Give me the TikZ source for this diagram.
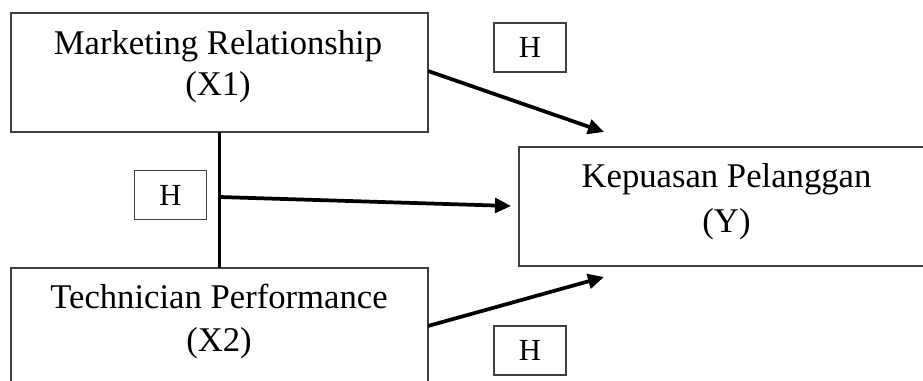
\documentclass[tikz,border=0pt]{standalone}
\usepackage{fontspec}
\setmainfont{Liberation Serif}
\usetikzlibrary{arrows.meta}
\begin{document}
\begin{tikzpicture}[x=0.75pt,y=-0.75pt,
  box/.style={draw=black!75,line width=0.8pt,inner sep=0pt,outer sep=0pt,fill=none},
  hbox/.style={box,minimum width=54pt,minimum height=36.75pt,font=\fontsize{23}{26}\selectfont},
  txt/.style={anchor=base,inner sep=0pt,font=\fontsize{26}{30}\selectfont},
  conn/.style={line width=2.8pt,black},
  arr/.style={conn,-{Triangle[length=12pt,width=11pt]}}]
\useasboundingbox (0,0) rectangle (923,381);
\clip (0,0) rectangle (923,381);
% main boxes
\node[box,minimum width=312.75pt,minimum height=89.25pt] (x1) at (219.5,72.5) {};
\node[box,minimum width=312.75pt,minimum height=89.25pt] (x2) at (219.5,327.5) {};
\node[box,minimum width=330pt,minimum height=89.25pt] (y) at (739,206.5) {};
% texts
\node[txt] (x1a) at (218,55) {Marketing Relationship};
\node[txt] (x1b) at (218,96) {(X1)};
\node[txt] (x2a) at (219,308) {Technician Performance};
\node[txt] (x2b) at (219,351) {(X2)};
\node[txt] (ya) at (726.5,187) {Kepuasan Pelanggan};
\node[txt] (yb) at (726.5,232) {(Y)};
% H boxes
\node[hbox] (h1) at (530,47.5) {H};
\node[hbox] (h2) at (170.5,195) {H};
\node[hbox] (h3) at (530,350.5) {H};
% connectors
\coordinate (j) at (219.5,197);
\coordinate (t1) at (604,132);
\coordinate (t2) at (511,206);
\coordinate (t3) at (604,277);
\coordinate (s1) at (428,71);
\coordinate (s3) at (428,326);
\draw[conn] (x1.south) -- (x2.north);
\draw[arr] (j) -- (t2);
\draw[arr] (s1) -- (t1);
\draw[arr] (s3) -- (t3);
\end{tikzpicture}
\end{document}
